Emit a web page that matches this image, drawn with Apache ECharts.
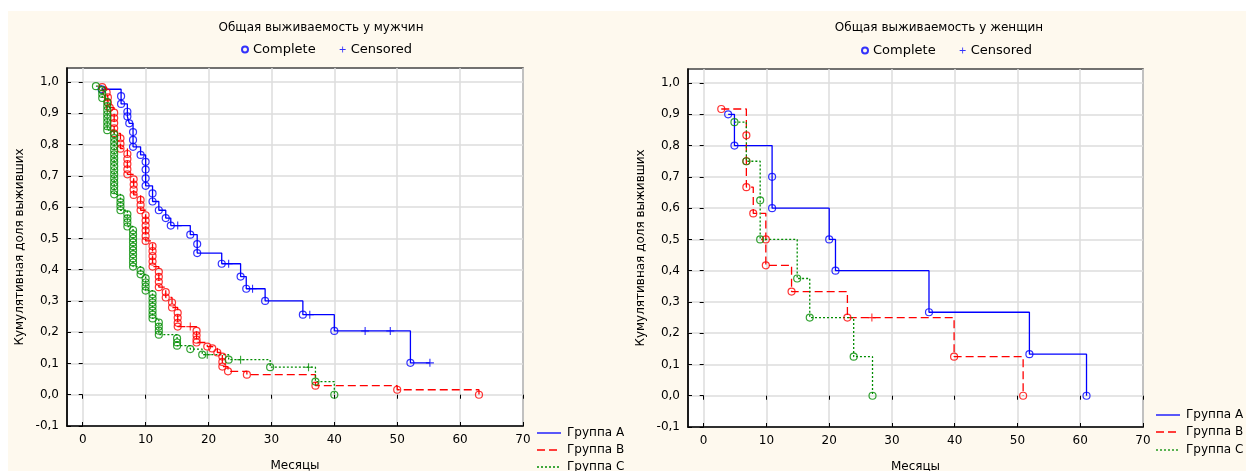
<!DOCTYPE html>
<html><head><meta charset="utf-8">
<script src="https://cdn.jsdelivr.net/npm/echarts@6/dist/echarts.min.js"></script>
<style>html,body{margin:0;padding:0;background:#fff}#c{width:1246px;height:471px}</style>
</head><body><div id="c"></div>
<script>
// ---------- tick labels ----------
const xTicks = [0, 10, 20, 30, 40, 50, 60, 70];
const yTicks = [-0.1, 0, 0.1, 0.2, 0.3, 0.4, 0.5, 0.6, 0.7, 0.8, 0.9, 1.0];
const groupNames = ['Группа A', 'Группа B', 'Группа C'];
const titles = ['Общая выживаемость у мужчин', 'Общая выживаемость у женщин'];

// ---------- men: complete (event) times and survival ----------
const menA_t = [3.0, 6.1, 6.1, 7.1, 7.1, 7.4, 8.0, 8.0, 8.0, 9.2, 10.0, 10.0, 10.0, 10.0, 11.1, 11.1, 12.1, 13.2, 14.0, 17.1, 18.2, 18.2, 22.1, 25.1, 26.0, 29.0, 35.0, 40.0, 52.1];
const menA_s = [0.977, 0.955, 0.93, 0.905, 0.89, 0.868, 0.84, 0.815, 0.793, 0.767, 0.745, 0.72, 0.692, 0.668, 0.644, 0.618, 0.59, 0.565, 0.541, 0.512, 0.482, 0.453, 0.419, 0.378, 0.339, 0.30, 0.256, 0.204, 0.102];
const menA_ct = [15.1, 23.2, 27.0, 36.1, 44.9, 48.9, 55.2];
const menA_cs = [0.541, 0.419, 0.339, 0.256, 0.204, 0.204, 0.102];

const menB_t = [3.1, 3.8, 4.0, 4.0, 4.3, 5.0, 5.0, 5.0, 5.0, 5.0, 6.0, 6.0, 6.0, 7.1, 7.1, 7.1, 7.1, 7.1, 8.1, 8.1, 8.1, 8.1, 9.2, 9.2, 9.2, 10.0, 10.0, 10.0, 10.0, 10.0, 10.0, 11.1, 11.1, 11.1, 11.1, 11.1, 12.1, 12.1, 12.1, 12.1, 13.2, 13.2, 14.2, 14.2, 15.1, 15.1, 15.1, 15.1, 18.1, 18.1, 18.1, 18.1, 19.8, 20.6, 21.4, 22.2, 22.2, 22.2, 23.1, 26.1, 37.0, 50.0, 63.0];
const menB_s = [0.984, 0.967, 0.951, 0.934, 0.918, 0.902, 0.885, 0.869, 0.852, 0.836, 0.820, 0.803, 0.787, 0.770, 0.754, 0.738, 0.721, 0.705, 0.689, 0.672, 0.656, 0.639, 0.623, 0.607, 0.590, 0.574, 0.557, 0.541, 0.525, 0.508, 0.492, 0.475, 0.459, 0.443, 0.426, 0.410, 0.393, 0.377, 0.361, 0.344, 0.328, 0.311, 0.295, 0.279, 0.262, 0.246, 0.230, 0.218, 0.204, 0.190, 0.176, 0.167, 0.154, 0.148, 0.135, 0.122, 0.105, 0.090, 0.075, 0.064, 0.029, 0.016, 0.0];
const menB_ct = [17.1];
const menB_cs = [0.218];

const menC_t = [2.1, 3.1, 3.1, 3.1, 3.9, 3.9, 3.9, 3.9, 3.9, 3.9, 3.9, 3.9, 5.0, 5.0, 5.0, 5.0, 5.0, 5.0, 5.0, 5.0, 5.0, 5.0, 5.0, 5.0, 5.0, 5.0, 5.0, 5.0, 6.0, 6.0, 6.0, 6.0, 7.1, 7.1, 7.1, 7.1, 8.0, 8.0, 8.0, 8.0, 8.0, 8.0, 8.0, 8.0, 8.0, 8.0, 9.2, 9.2, 10.0, 10.0, 10.0, 10.0, 11.1, 11.1, 11.1, 11.1, 11.1, 11.1, 11.1, 12.1, 12.1, 12.1, 12.1, 15.0, 15.0, 15.0, 17.1, 19.0, 23.2, 29.8, 37.0, 40.0];
const menC_s = [0.987, 0.974, 0.962, 0.949, 0.936, 0.923, 0.910, 0.897, 0.885, 0.872, 0.859, 0.846, 0.833, 0.821, 0.808, 0.795, 0.782, 0.769, 0.756, 0.744, 0.731, 0.718, 0.705, 0.692, 0.679, 0.667, 0.654, 0.641, 0.628, 0.615, 0.603, 0.590, 0.577, 0.564, 0.551, 0.538, 0.526, 0.513, 0.500, 0.487, 0.474, 0.462, 0.449, 0.436, 0.423, 0.410, 0.397, 0.385, 0.372, 0.359, 0.346, 0.333, 0.321, 0.308, 0.295, 0.282, 0.269, 0.256, 0.244, 0.231, 0.218, 0.205, 0.192, 0.180, 0.167, 0.157, 0.146, 0.128, 0.112, 0.088, 0.042, 0.0];
const menC_ct = [19.8, 25.1, 35.9];
const menC_cs = [0.128, 0.112, 0.088];

// ---------- women ----------
const womA_t = [3.9, 4.9, 10.9, 10.9, 20.0, 21.0, 35.9, 51.9, 61.0];
const womA_s = [0.9, 0.8, 0.7, 0.6, 0.5, 0.4, 0.267, 0.133, 0.0];
const womA_ct = [];
const womA_cs = [];

const womB_t = [2.8, 6.8, 6.8, 6.8, 7.9, 9.9, 9.9, 14.0, 22.9, 39.9, 50.9];
const womB_s = [0.917, 0.833, 0.75, 0.667, 0.583, 0.5, 0.417, 0.333, 0.25, 0.125, 0.0];
const womB_ct = [26.8];
const womB_cs = [0.25];

const womC_t = [4.9, 6.8, 9.0, 9.0, 14.9, 16.9, 23.9, 26.9];
const womC_s = [0.875, 0.75, 0.625, 0.5, 0.375, 0.25, 0.125, 0.0];
const womC_ct = [];
const womC_cs = [];

// ---------- build ----------
const FONT = 'DejaVu Sans';
const colors = ['#0000ff', '#ff0000', '#008c00'];
const dashes = ['solid', [8, 4], [2, 2]];
const plusPath = 'path://M-0.14,-1 L0.14,-1 L0.14,-0.14 L1,-0.14 L1,0.14 L0.14,0.14 L0.14,1 L-0.14,1 L-0.14,0.14 L-1,0.14 L-1,-0.14 L-0.14,-0.14 Z';

function zip(t, s) { return t.map((v, i) => [v, s[i]]); }
function lineData(t, s, ct, cs) {
  const pts = zip(t, s).map(p => ({ p, k: 0 })).concat(zip(ct, cs).map(p => ({ p, k: 1 })));
  pts.sort((a, b) => a.p[0] - b.p[0] || a.k - b.k);
  return pts.map(o => o.p);
}

const groups = [
  [[menA_t, menA_s, menA_ct, menA_cs], [menB_t, menB_s, menB_ct, menB_cs], [menC_t, menC_s, menC_ct, menC_cs]],
  [[womA_t, womA_s, womA_ct, womA_cs], [womB_t, womB_s, womB_ct, womB_cs], [womC_t, womC_s, womC_ct, womC_cs]]
];

const series = [];
groups.forEach((gs, gi) => {
  gs.forEach((g, k) => {
    series.push({
      type: 'line', name: groupNames[k], xAxisIndex: gi * 2, yAxisIndex: gi * 2,
      step: 'end', symbol: 'none', data: lineData(g[0], g[1], g[2], g[3]),
      lineStyle: { color: colors[k], width: 1.3, type: dashes[k] },
      itemStyle: { color: colors[k] }, z: 3
    });
  });
  gs.forEach((g, k) => {
    series.push({
      type: 'scatter', name: 'Complete', xAxisIndex: gi * 2, yAxisIndex: gi * 2,
      symbol: 'circle', symbolSize: 7, data: zip(g[0], g[1]),
      itemStyle: { color: 'rgba(255,255,255,0)', borderColor: colors[k], borderWidth: 1.2 }, z: 4
    });
    series.push({
      type: 'scatter', name: 'Censored', xAxisIndex: gi * 2, yAxisIndex: gi * 2,
      symbol: plusPath, symbolSize: 8, data: zip(g[2], g[3]),
      itemStyle: { color: colors[k] }, z: 4
    });
  });
});

const fmt = v => (Math.round(v * 10) / 10).toFixed(1).replace('.', ',');
const grids = [
  { left: 67, top: 68, width: 456, height: 358 },
  { left: 688, top: 69, width: 455, height: 358 }
];
const xAxes = [], yAxes = [];
grids.forEach((g, gi) => {
  xAxes.push({
    type: 'value', gridIndex: gi, min: -2.5, max: 70, position: 'bottom',
    name: 'Месяцы', nameLocation: 'middle', nameGap: 34,
    nameTextStyle: { fontFamily: FONT, fontSize: 12, color: '#000' },
    axisLine: { show: true, onZero: false, lineStyle: { color: '#000', width: 1.5 } },
    axisTick: { show: true, inside: true, length: 4, customValues: xTicks, lineStyle: { color: '#000' } },
    axisLabel: { customValues: xTicks, fontFamily: FONT, fontSize: 12, color: '#000', margin: 8 },
    splitLine: { show: true, lineStyle: { color: '#dcdcdc', width: 1.5 } }
  });
  xAxes.push({
    type: 'value', gridIndex: gi, min: -2.5, max: 70, position: 'top',
    axisLine: { show: false },
    axisTick: { show: true, inside: true, length: 4, customValues: xTicks, lineStyle: { color: '#000' } },
    axisLabel: { show: false }, splitLine: { show: false }
  });
  yAxes.push({
    type: 'value', gridIndex: gi, min: -0.1, max: 1.045, position: 'left',
    name: 'Кумулятивная доля выживших', nameLocation: 'middle', nameGap: 41, nameRotate: 90,
    nameTextStyle: { fontFamily: FONT, fontSize: 12, color: '#000' },
    axisLine: { show: true, onZero: false, lineStyle: { color: '#000', width: 1.5 } },
    axisTick: { show: true, inside: true, length: 4, customValues: yTicks, lineStyle: { color: '#000' } },
    axisLabel: { customValues: yTicks, formatter: fmt, fontFamily: FONT, fontSize: 12, color: '#000', margin: 8 },
    splitLine: { show: true, lineStyle: { color: '#dcdcdc', width: 1.5 } }
  });
  yAxes.push({
    type: 'value', gridIndex: gi, min: -0.1, max: 1.045, position: 'right',
    axisLine: { show: false },
    axisTick: { show: true, inside: true, length: 4, customValues: yTicks, lineStyle: { color: '#000' } },
    axisLabel: { show: false }, splitLine: { show: false }
  });
});

// group legend drawn as graphic keys (line sample + text)
const legendPos = [{ x: 537, y: [433, 450, 467] }, { x: 1156, y: [415, 432, 450] }];
const keyGraphics = [];
legendPos.forEach(lp => {
  groupNames.forEach((nm, k) => {
    keyGraphics.push({ type: 'line', shape: { x1: lp.x, y1: lp.y[k], x2: lp.x + 24, y2: lp.y[k] },
      style: { stroke: colors[k], lineWidth: 1.3, lineDash: dashes[k] === 'solid' ? null : dashes[k] }, silent: true });
    keyGraphics.push({ type: 'text', x: lp.x + 30, y: lp.y[k],
      style: { text: nm, verticalAlign: 'middle', font: '12px "DejaVu Sans"', fill: '#000' }, silent: true });
  });
});

const txt = { fontFamily: FONT, fontSize: 13, color: '#000' };
const option = {
  animation: false,
  backgroundColor: '#fef9ee',
  grid: grids.map(g => Object.assign({ show: true, backgroundColor: '#fff', borderColor: '#444', borderWidth: 1.5, outerBoundsMode: 'none', containLabel: false }, g)),
  xAxis: xAxes,
  yAxis: yAxes,
  legend: [
    { data: ['Complete', 'Censored'], left: 241, top: 43, itemWidth: 6, itemHeight: 6, itemGap: 24, padding: 0, textStyle: txt, selectedMode: false },
    { data: ['Complete', 'Censored'], left: 861, top: 44, itemWidth: 6, itemHeight: 6, itemGap: 24, padding: 0, textStyle: txt, selectedMode: false }
  ],
  graphic: [
    { type: 'rect', shape: { x: 0, y: 0, width: 1246, height: 11 }, style: { fill: '#fff' }, silent: true },
    { type: 'rect', shape: { x: 0, y: 0, width: 8, height: 471 }, style: { fill: '#fff' }, silent: true },
    { type: 'text', x: 321, y: 28, style: { text: titles[0], align: 'center', verticalAlign: 'middle', font: '12px "DejaVu Sans"', fill: '#000' } },
    { type: 'text', x: 939, y: 28, style: { text: titles[1], align: 'center', verticalAlign: 'middle', font: '12px "DejaVu Sans"', fill: '#000' } }
  ].concat(keyGraphics),
  series: series
};
const chart = echarts.init(document.getElementById('c'), null, { renderer: 'canvas' });
chart.setOption(option);
</script>
</body></html>
